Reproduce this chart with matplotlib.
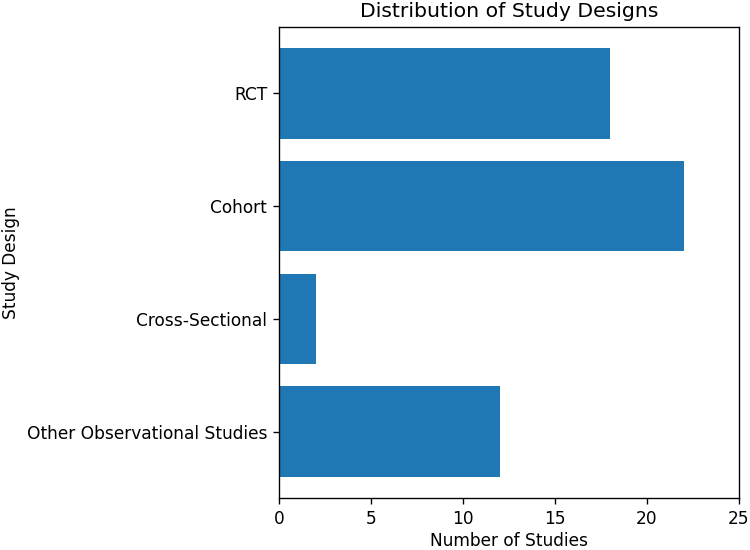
import matplotlib
matplotlib.use("Agg")
import matplotlib.pyplot as plt

categories = ["RCT", "Cohort", "Cross-Sectional", "Other Observational Studies"]
counts = [18, 22, 2, 12]

dpi = 122
fig = plt.figure(figsize=(750 / dpi, 550 / dpi), dpi=dpi)
ax = fig.add_axes([0.372, 0.0945, 0.6133, 0.8564])
ax.barh(categories, counts, color="#1f77b4")
ax.invert_yaxis()
ax.set_xlim(0, 25)
ax.set_xlabel("Number of Studies", labelpad=2.5)
ax.set_ylabel("Study Design")
ax.set_title("Distribution of Study Designs")
fig.savefig("out.png", dpi=dpi)
